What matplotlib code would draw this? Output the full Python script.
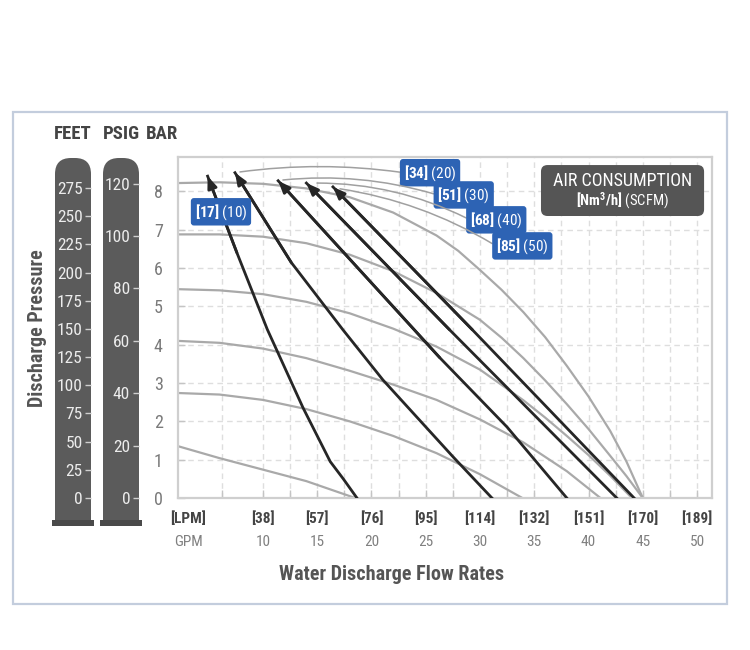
import matplotlib
matplotlib.use("Agg")
from matplotlib import pyplot as plt
from matplotlib import font_manager
from matplotlib.patches import FancyBboxPatch, Rectangle

# ---- data (x in GPM, y in BAR) ----
# gray pressure curves, one per air supply pressure
p20_gpm = [2.2, 6, 10, 14, 18.5]
p20_bar = [1.35, 1.04, 0.74, 0.44, 0.0]
p40_gpm = [2.2, 6, 10, 14, 18, 22, 26, 30, 33.9]
p40_bar = [2.74, 2.70, 2.56, 2.32, 2.00, 1.62, 1.17, 0.62, 0.0]
p60_gpm = [2.2, 6, 10, 14, 18, 22, 26, 30, 34, 38, 41.1]
p60_bar = [4.10, 4.05, 3.90, 3.65, 3.32, 2.96, 2.56, 2.05, 1.45, 0.70, 0.0]
p80_gpm = [2.2, 6, 10, 14, 18, 22, 26, 30, 34, 36, 38, 40, 42, 44]
p80_bar = [5.45, 5.42, 5.32, 5.12, 4.82, 4.42, 3.95, 3.35, 2.55, 2.10, 1.62, 1.12, 0.58, 0.0]
p100_gpm = [2.2, 6, 10, 14, 18, 22, 26, 30, 32, 34, 36, 38, 40, 42, 43.5, 45]
p100_bar = [6.88, 6.88, 6.82, 6.65, 6.35, 5.92, 5.35, 4.65, 4.18, 3.65, 3.07, 2.45, 1.80, 1.10, 0.57, 0.0]
p120_gpm = [2.2, 6, 10, 14, 18, 22, 26, 28, 30, 32, 34, 36, 38, 40, 42, 43.5, 45]
p120_bar = [8.22, 8.24, 8.20, 8.08, 7.85, 7.45, 6.85, 6.45, 5.95, 5.43, 4.85, 4.20, 3.45, 2.65, 1.75, 0.95, 0.0]

# black air consumption lines, listed from the x axis up to the arrow tip
a10_gpm = [18.66, 17.4, 16.2, 13.7, 10.4, 7.6, 4.9]
a10_bar = [0.0, 0.50, 0.95, 2.35, 4.40, 6.40, 8.40]
a20_gpm = [31.1, 27.5, 21.06, 17.37, 12.6, 7.42]
a20_bar = [0.0, 1.08, 3.08, 4.39, 6.15, 8.49]
a30_gpm = [38.0, 32.5, 26.3, 11.4]
a30_bar = [0.0, 1.85, 3.66, 8.28]
a40_gpm = [42.6, 27.2, 14.0]
a40_bar = [0.0, 4.39, 8.22]
a50_gpm = [44.2, 29.3, 16.45]
a50_bar = [0.0, 4.39, 8.12]

air_nm3h = ["[17]", "[34]", "[51]", "[68]", "[85]"]
air_scfm = ["(10)", "(20)", "(30)", "(40)", "(50)"]

gpm_ticks = [10, 15, 20, 25, 30, 35, 40, 45, 50]
lpm_ticks = ["[38]", "[57]", "[76]", "[95]", "[114]", "[132]", "[151]", "[170]", "[189]"]
x_grid_gpm = [6.2, 10, 12.5, 15, 17.5, 20, 22.5, 25, 27.5, 30, 32.5, 35,
              37.5, 40, 42.5, 45, 47.5, 50]
bar_ticks = [0, 1, 2, 3, 4, 5, 6, 7, 8]
feet_ticks = [0, 25, 50, 75, 100, 125, 150, 175, 200, 225, 250, 275]
psig_ticks = [0, 20, 40, 60, 80, 100, 120]

# ---- fonts: a narrow face like the original ----
names = {f.name for f in font_manager.fontManager.ttflist}
fam = next((c for c in ["Liberation Sans Narrow", "Roboto Condensed"] if c in names), "DejaVu Sans")
plt.rcParams["font.family"] = [fam, "DejaVu Sans"]
plt.rcParams["font.stretch"] = "condensed"
plt.rcParams["mathtext.fontset"] = "custom"
plt.rcParams["mathtext.rm"] = fam
plt.rcParams["mathtext.bf"] = fam + ":bold"

W, H = 750, 650
fig = plt.figure(figsize=(7.5, 6.5), dpi=100)

# pixel overlay for frame and the two scale columns
deco = fig.add_axes([0, 0, 1, 1])
deco.set_xlim(0, W)
deco.set_ylim(H, 0)
deco.axis("off")
deco.add_patch(Rectangle((13, 112), 714, 492, fill=False, ec="#c3cddd", lw=1.6))
for x0 in (55, 103):
    deco.add_patch(Rectangle((x0, 176), 36, 346, fc="#5b5b5b", ec="none"))
    deco.add_patch(FancyBboxPatch((x0, 158), 36, 40, boxstyle="round,pad=0,rounding_size=16",
                                  fc="#5b5b5b", ec="none"))
    deco.add_patch(Rectangle((x0 - 3, 520), 42, 6, fc="#4a4a4a", ec="none"))
deco.text(73, 134, "FEET", ha="center", va="center", fontsize=13.5, fontweight="bold", color="#444444")
deco.text(121, 134, "PSIG", ha="center", va="center", fontsize=13.5, fontweight="bold", color="#444444")
deco.text(162, 134, "BAR", ha="center", va="center", fontsize=13.5, fontweight="bold", color="#444444")
deco.text(38, 328, "Discharge Pressure", rotation=90, ha="center", va="center",
          fontsize=14.5, fontweight="bold", color="#555555")
deco.text(392, 575, "Water Discharge Flow Rates", ha="center", va="center",
          fontsize=14.5, fontweight="bold", color="#555555")

# main chart
left, right, top, bottom = 178, 712, 157, 498
ax = fig.add_axes([left / W, 1 - bottom / H, (right - left) / W, (bottom - top) / H])
ax.set_xlim(2.17, 51.38)
ax.set_ylim(0, 8.9)

# scale columns share the vertical extent of the chart
for xpos, top_val, ticks in ((91, 302.6, feet_ticks), (138.5, 130.2, psig_ticks)):
    sa = fig.add_axes([xpos / W, 1 - bottom / H, 0.001, (bottom - top) / H])
    sa.set_ylim(0, top_val)
    sa.set_yticks(ticks)
    sa.set_xticks([])
    sa.patch.set_alpha(0)
    for s in sa.spines.values():
        s.set_visible(False)
    sa.tick_params(axis="y", direction="out", length=4, width=1, color="#cfcfcf",
                   labelcolor="#ececec", labelsize=12.5, pad=2)

for gx, gy in ((p20_gpm, p20_bar), (p40_gpm, p40_bar), (p60_gpm, p60_bar),
               (p80_gpm, p80_bar), (p100_gpm, p100_bar), (p120_gpm, p120_bar)):
    ax.plot(gx, gy, color="#a9a9a9", lw=1.6, zorder=2, solid_capstyle="round",
            solid_joinstyle="round")

air_lines = [(a10_gpm, a10_bar), (a20_gpm, a20_bar), (a30_gpm, a30_bar),
             (a40_gpm, a40_bar), (a50_gpm, a50_bar)]
for gx, gy in air_lines:
    ax.plot(gx, gy, color="#262626", lw=2.0, zorder=3, solid_joinstyle="round")
    ax.annotate("", xy=(gx[-1], gy[-1]), xytext=(gx[-2], gy[-2]),
                arrowprops=dict(arrowstyle="-|>,head_length=0.7,head_width=0.28",
                                color="#262626", lw=2.0, shrinkA=0, shrinkB=0), zorder=3)

# air consumption tags
box = dict(boxstyle="round,pad=0.25,rounding_size=0.2", fc="#2d63b4", ec="none")
tag_pos = [(6.13, 7.47), (25.4, 8.49), (28.5, 7.91), (31.5, 7.26), (33.9, 6.58)]
lead_from = [None, (7.88, 8.51), (11.84, 8.30), (14.98, 8.22), (17.1, 8.07)]
lead_rad = [0, 0.07, 0.1, 0.12, 0.1]
for i in range(5):
    txt = r"$\mathbf{" + air_nm3h[i] + "}$ " + air_scfm[i]
    if lead_from[i] is None:
        ax.text(tag_pos[i][0], tag_pos[i][1], txt, ha="center", va="center", color="white",
                fontsize=11, bbox=box, zorder=6)
    else:
        ax.annotate(txt, xy=lead_from[i], xytext=tag_pos[i], ha="center", va="center",
                    color="white", fontsize=11, bbox=box, zorder=6,
                    arrowprops=dict(arrowstyle="-", color="#a0a0a0", lw=1.1, shrinkA=0, shrinkB=0,
                                    relpos=(0, 0.5),
                                    connectionstyle="arc3,rad=%.2f" % lead_rad[i]))

ax.add_patch(FancyBboxPatch((35.62, 7.36), 15.03, 1.33,
                            boxstyle="round,pad=0,rounding_size=0.6", mutation_aspect=0.283,
                            fc="#555555", ec="none", zorder=6))
ax.text(43.1, 8.28, "AIR CONSUMPTION", ha="center", va="center", color="white",
        fontsize=13, zorder=7)
ax.text(43.1, 7.76, r"$\mathbf{[Nm^3/h]}$ (SCFM)", ha="center", va="center", color="white",
        fontsize=10.5, zorder=7)

# axes styling
ax.set_yticks(bar_ticks)
ax.tick_params(axis="y", direction="in", length=5, width=1, color="#c4c4c4",
               labelcolor="#7a7a7a", labelsize=13, pad=11)
ax.set_xticks(x_grid_gpm)
ax.set_xticklabels([])
ax.tick_params(axis="x", direction="in", length=6, width=1, color="#c4c4c4")
ax.grid(True, ls=(0, (4, 3)), color="#dedede", lw=1, zorder=0)
ax.set_axisbelow(True)
for s in ax.spines.values():
    s.set_color("#cfcfcf")
    s.set_linewidth(1.6)

xt = ax.get_xaxis_transform()
ax.text(3.1, -0.06, "[LPM]", transform=xt, ha="center", va="center", fontsize=11,
        fontweight="bold", color="#444444")
ax.text(3.1, -0.128, "GPM", transform=xt, ha="center", va="center", fontsize=11,
        color="#808080")
for g, l in zip(gpm_ticks, lpm_ticks):
    ax.text(g, -0.06, l, transform=xt, ha="center", va="center", fontsize=11,
            fontweight="bold", color="#444444")
    ax.text(g, -0.128, str(g), transform=xt, ha="center", va="center", fontsize=11,
            color="#808080")

fig.savefig("out.png", dpi=100, facecolor="white")
